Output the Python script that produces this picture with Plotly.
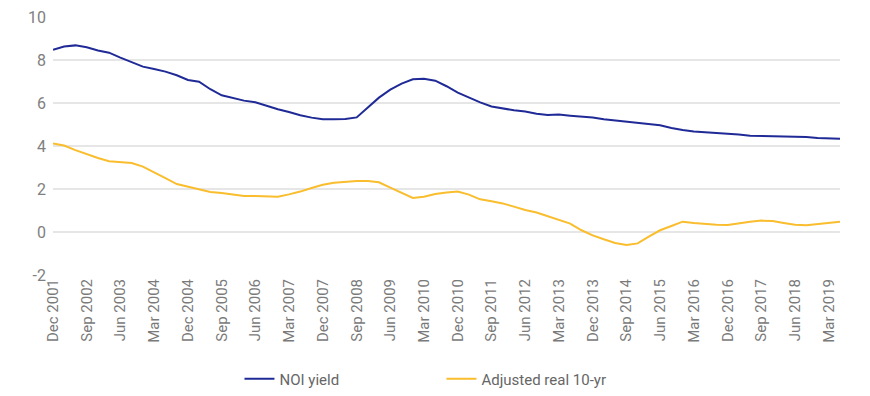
import plotly.graph_objects as go
import pandas as pd

# Quarterly observations, Dec 2001 .. Jun 2019
dates = pd.date_range("2001-12-01", periods=71, freq="3MS")

noi_yield = [
    8.48, 8.63, 8.68, 8.59, 8.44, 8.34, 8.11, 7.88, 7.69, 7.58,
    7.46, 7.29, 7.07, 6.99, 6.64, 6.36, 6.22, 6.11, 6.03, 5.86,
    5.71, 5.58, 5.43, 5.32, 5.24, 5.24, 5.26, 5.33, 5.78, 6.25,
    6.62, 6.90, 7.10, 7.13, 7.04, 6.78, 6.48, 6.25, 6.03, 5.84,
    5.74, 5.66, 5.60, 5.50, 5.44, 5.46, 5.41, 5.38, 5.33, 5.24,
    5.18, 5.13, 5.07, 5.01, 4.96, 4.84, 4.74, 4.68, 4.65, 4.62,
    4.57, 4.53, 4.48, 4.47, 4.45, 4.43, 4.43, 4.42, 4.37, 4.34,
    4.34,
]

adj_real_10yr = [
    4.12, 4.02, 3.81, 3.62, 3.44, 3.29, 3.26, 3.21, 3.04, 2.79,
    2.51, 2.23, 2.11, 1.98, 1.86, 1.81, 1.74, 1.67, 1.67, 1.64,
    1.64, 1.75, 1.88, 2.05, 2.20, 2.29, 2.34, 2.37, 2.37, 2.31,
    2.06, 1.83, 1.58, 1.64, 1.77, 1.84, 1.88, 1.74, 1.52, 1.43,
    1.33, 1.18, 1.02, 0.91, 0.74, 0.59, 0.39, 0.08, -0.16, -0.34,
    -0.51, -0.60, -0.53, -0.22, 0.08, 0.28, 0.48, 0.42, 0.37, 0.34,
    0.33, 0.42, 0.48, 0.53, 0.51, 0.42, 0.34, 0.31, 0.36, 0.42,
    0.48,
]

tick_dates = pd.date_range("2001-12-01", "2019-03-01", freq="9MS")
tick_labels = [d.strftime("%b %Y") for d in tick_dates]

y_ticks = [-2, 0, 2, 4, 6, 8, 10]
y_tick_labels = ["-2", "0", "2", "4", "6", "8", "10"]

fig = go.Figure()
fig.add_trace(go.Scatter(
    x=dates, y=noi_yield, mode="lines", name="NOI yield",
    line=dict(color="#1f2a96", width=2),
))
fig.add_trace(go.Scatter(
    x=dates, y=adj_real_10yr, mode="lines", name="Adjusted real 10-yr",
    line=dict(color="#f9bd2d", width=2),
))

fig.update_layout(
    width=870, height=396,
    margin=dict(l=53, r=30, t=17, b=121, autoexpand=False),
    paper_bgcolor="white", plot_bgcolor="white",
    font=dict(family="Roboto", size=15, color="#7a7a7a"),
    showlegend=True,
    legend=dict(
        orientation="h", x=0.4936, xanchor="center",
        yref="container", y=0.043, yanchor="middle",
        font=dict(family="Roboto", size=15, color="#666666"),
        entrywidth=157, entrywidthmode="pixels",
        itemwidth=30,
    ),
)
fig.update_xaxes(
    type="date",
    range=["2001-12-01", "2019-06-01"],
    tickvals=list(tick_dates), ticktext=tick_labels,
    tickangle=-90, showgrid=False, showline=False, zeroline=False,
    ticks="", automargin=False,
    tickfont=dict(family="Roboto", size=15, color="#7a7a7a"),
)
fig.update_yaxes(
    range=[-2, 10], tickvals=y_ticks, ticktext=y_tick_labels,
    showgrid=True, gridcolor="#e6e6e6", gridwidth=2,
    zeroline=False, showline=False, ticks="", automargin=False,
    ticklabelstandoff=6,
    tickfont=dict(family="Roboto", size=16, color="#808080"),
)

fig.write_html(
    "out.html",
    config={"displayModeBar": False},
    post_script="document.body.style.margin='0';document.body.style.padding='0';",
)
